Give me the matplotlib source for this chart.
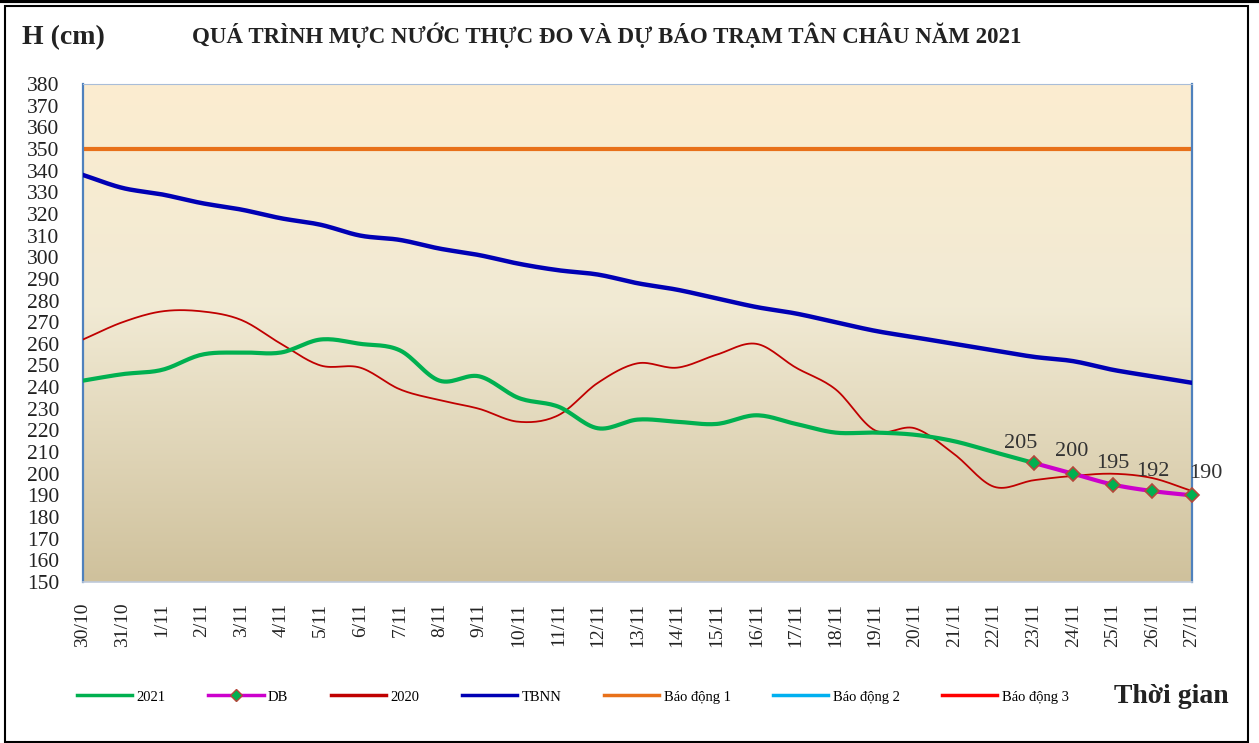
import numpy as np
import matplotlib
matplotlib.use("Agg")
import matplotlib.pyplot as plt
from matplotlib.colors import LinearSegmentedColormap
from matplotlib.patches import Rectangle
from matplotlib.lines import Line2D

plt.rcParams['font.family'] = ['Liberation Serif', 'DejaVu Serif']

# ngày (trục x)
dates = ['30/10', '31/10'] + ['%d/11' % d for d in range(1, 28)]

# mực nước thực đo 2021 (đến 23/11)
h2021 = [243, 246, 248, 255, 256, 256, 262, 260, 257, 243, 245, 235, 231,
         221, 225, 224, 223, 227, 223, 219, 219, 218, 215, 210, 205]
# dự báo 23/11 - 27/11
db_vals = [205, 200, 195, 192, 190]
# năm 2020
h2020 = [262, 270, 275, 275, 271, 260, 250, 249, 239, 234, 230, 224, 227, 242,
         251, 249, 255, 260, 249, 239, 220, 221, 209, 194, 197, 199, 200, 198, 192]
# trung bình nhiều năm
tbnn = [338, 332, 329, 325, 322, 318, 315, 310, 308, 304, 301, 297, 294, 292,
        288, 285, 281, 277, 274, 270, 266, 263, 260, 257, 254, 252, 248, 245, 242]
# mức báo động
bd1, bd2, bd3 = 350, 400, 450


def smooth(x, y, n=16):
    # đường cong kiểu Catmull-Rom giống "smoothed line" của Excel
    x = np.asarray(x, float)
    y = np.asarray(y, float)
    if len(x) < 3:
        return x, y
    px = np.concatenate([[2 * x[0] - x[1]], x, [2 * x[-1] - x[-2]]])
    py = np.concatenate([[2 * y[0] - y[1]], y, [2 * y[-1] - y[-2]]])
    xs, ys = [], []
    t = np.linspace(0, 1, n, endpoint=False)
    for i in range(1, len(px) - 2):
        for p, out in ((px, xs), (py, ys)):
            p0, p1, p2, p3 = p[i - 1], p[i], p[i + 1], p[i + 2]
            out.extend(0.5 * (2 * p1 + (-p0 + p2) * t
                              + (2 * p0 - 5 * p1 + 4 * p2 - p3) * t ** 2
                              + (-p0 + 3 * p1 - 3 * p2 + p3) * t ** 3))
    xs.append(x[-1])
    ys.append(y[-1])
    return np.array(xs), np.array(ys)


x_all = np.arange(len(dates))
x21 = x_all[:len(h2021)]
xdb = x_all[len(h2021) - 1:]

fig = plt.figure(figsize=(12.59, 7.43), dpi=100)
ax = fig.add_axes([0.0659, 0.2167, 0.8809, 0.6702])

# nền gradient
cmap = LinearSegmentedColormap.from_list(
    'bg', [(0.0, '#CFC19C'), (0.55, '#F1EAD4'), (1.0, '#FCEDD0')])
grad = np.linspace(0, 1, 256).reshape(-1, 1)
ax.imshow(grad, cmap=cmap, origin='lower', aspect='auto',
          extent=[0, len(dates) - 1, 150, 380], zorder=0)

c_2021 = '#00B050'
c_db = '#CC00CC'
c_2020 = '#C00000'
c_tbnn = '#0000B4'
c_bd1 = '#E8711A'
c_bd2 = '#00B0F0'
c_bd3 = '#FF0000'

ax.plot(x_all, [bd1] * len(x_all), color=c_bd1, lw=3, zorder=2)
ax.plot(x_all, [bd2] * len(x_all), color=c_bd2, lw=3, zorder=2)
ax.plot(x_all, [bd3] * len(x_all), color=c_bd3, lw=3, zorder=2)
ax.plot(*smooth(x_all, tbnn), color=c_tbnn, lw=3.2, zorder=3)
ax.plot(*smooth(x_all, h2020), color=c_2020, lw=1.3, zorder=4)
ax.plot(*smooth(x21, h2021), color=c_2021, lw=3, zorder=5)
ax.plot(*smooth(xdb, db_vals), color=c_db, lw=3, zorder=6)
ax.plot(xdb, db_vals, ls='none', marker='D', ms=7, mfc=c_2021,
        mec='#B5473A', mew=1.2, zorder=7, clip_on=False)

# nhãn số liệu dự báo
offs = [(-9, 14), (-1, 16), (0, 15), (0, 14), (10, 16)]
for xi, v, o in zip(xdb, db_vals, offs):
    ax.annotate('%d' % v, (xi, v), xytext=o, textcoords='offset points',
                ha='center', va='center', fontsize=16, color='#333333', zorder=8)

ax.set_xlim(0, len(dates) - 1)
ax.set_ylim(150, 380)
ax.set_yticks(np.arange(150, 381, 10))
ax.set_xticks(x_all)
ax.set_xticklabels(dates, rotation=90, fontsize=14, color='#222222')
ax.tick_params(axis='y', length=0, pad=17, labelsize=15.5, labelcolor='#222222')
ax.tick_params(axis='x', length=0, pad=15)

for s in ('left', 'right'):
    ax.spines[s].set_color('#4F81BD')
    ax.spines[s].set_linewidth(1.6)
ax.spines['top'].set_color('#A9BDD8')
ax.spines['bottom'].set_color('#BFCADA')
ax.spines['bottom'].set_linewidth(1.2)

fig.text(0.0175, 0.950, 'H (cm)', fontsize=20, fontweight='bold',
         ha='left', va='center', color='#222222')
fig.text(0.482, 0.952, 'QUÁ TRÌNH MỰC NƯỚC THỰC ĐO VÀ DỰ BÁO TRẠM TÂN CHÂU NĂM 2021',
         fontsize=16.5, fontweight='bold', ha='center', va='center', color='#222222')
fig.text(0.930, 0.062, 'Thời gian', fontsize=20, fontweight='bold',
         ha='center', va='center', color='#222222')

handles = [
    Line2D([], [], color=c_2021, lw=2.5),
    Line2D([], [], color=c_db, lw=2.5, marker='D', ms=6, mfc=c_2021, mec='#B5473A'),
    Line2D([], [], color=c_2020, lw=2.5),
    Line2D([], [], color=c_tbnn, lw=2.5),
    Line2D([], [], color=c_bd1, lw=2.5),
    Line2D([], [], color=c_bd2, lw=2.5),
    Line2D([], [], color=c_bd3, lw=2.5),
]
labels = ['2021', 'DB', '2020', 'TBNN', 'Báo động 1', 'Báo động 2', 'Báo động 3']
fig.legend(handles, labels, loc='center', bbox_to_anchor=(0.455, 0.062), ncol=7,
           frameon=False, fontsize=10.5, handlelength=3.8, handletextpad=0.3,
           columnspacing=2.9)

# khung viền ngoài
fig.patches.append(Rectangle((5 / 1259, 1 / 743), 1243 / 1259, 736 / 743,
                             transform=fig.transFigure, fill=False,
                             edgecolor='black', lw=1.5))
fig.add_artist(Line2D([0, 1], [0.998, 0.998], transform=fig.transFigure,
                      color='black', lw=3))

fig.savefig('out.png', dpi=100)
